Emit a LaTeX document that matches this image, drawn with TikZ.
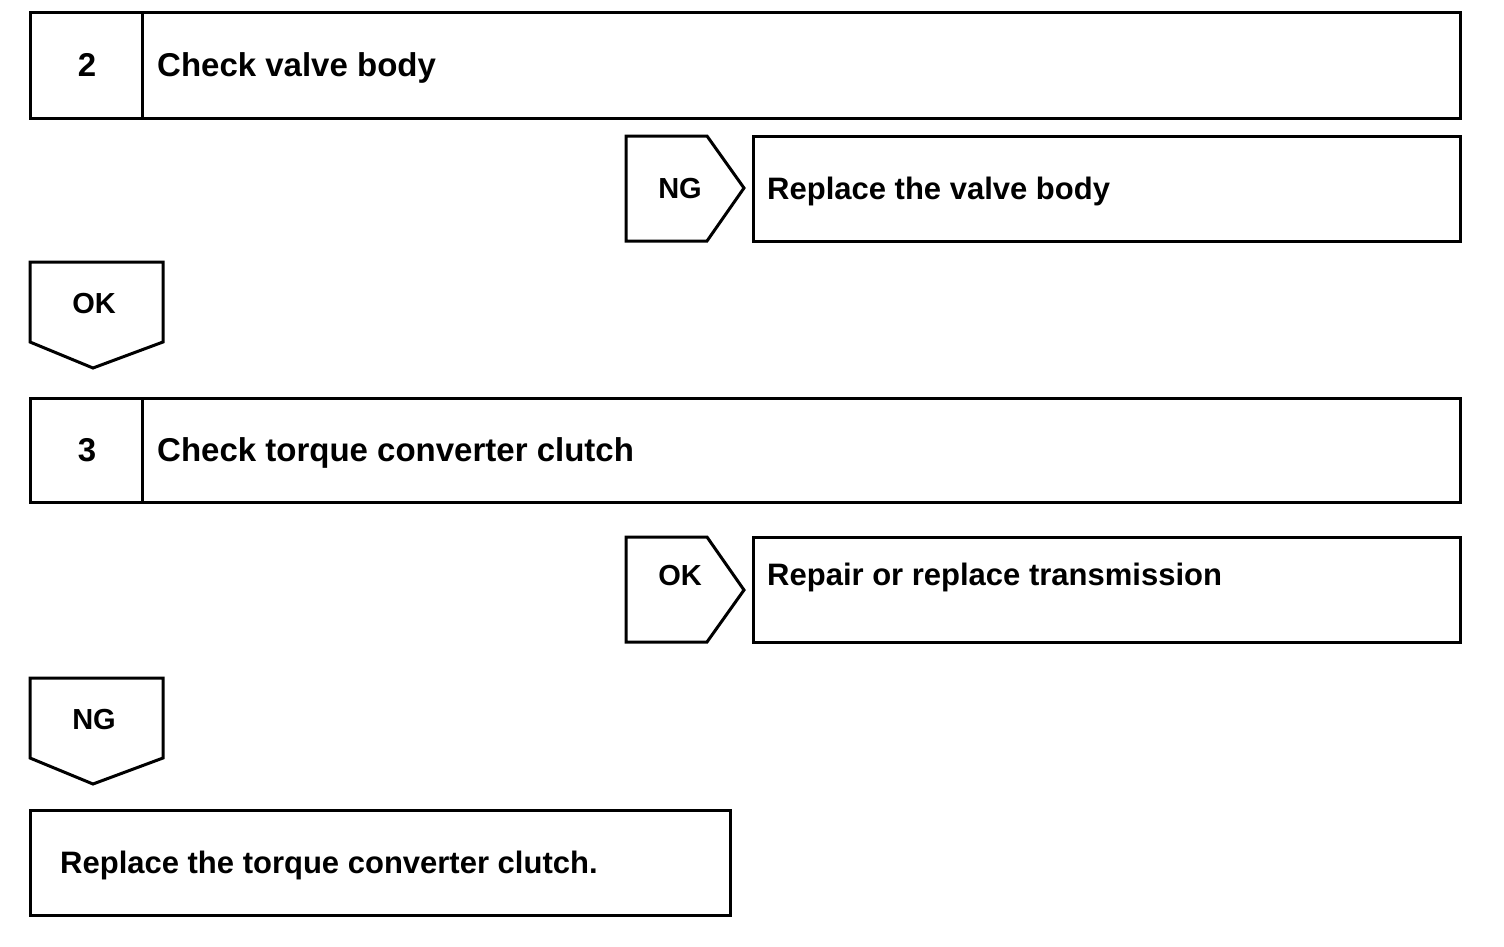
\documentclass[tikz,border=0pt]{standalone}
\usepackage{fontspec}
\setmainfont{Liberation Sans}
\tikzset{
  frame/.style={draw, line width=3pt, line join=miter},
  hdr/.style={font=\fontsize{33}{40}\selectfont\bfseries, inner sep=0pt},
  sub/.style={font=\fontsize{31}{37}\selectfont\bfseries, inner sep=0pt, anchor=base west},
  tag/.style={font=\fontsize{29}{35}\selectfont\bfseries, inner sep=0pt, anchor=base},
}
\begin{document}
\begin{tikzpicture}[x=1pt,y=-1pt]
\useasboundingbox (0,0) rectangle (1504,946);
% Step 2
\draw[frame] (30,12) rectangle (1460,118);
\draw[frame] (142,12) -- (142,118);
\node[hdr, anchor=base] (n2) at (87,76) {2};
\node[hdr, anchor=base west] (t2) at (157,76) {Check valve body};
% NG -> replace valve body
\draw[frame] (626,136) -- (707,136) -- (744,188) -- (707,241) -- (626,241) -- cycle;
\node[tag] (ng1) at (680,198) {NG};
\draw[frame] (753,136) rectangle (1460,241);
\node[sub] (r1) at (767,199) {Replace the valve body};
% OK down
\draw[frame] (30,262) -- (163,262) -- (163,342) -- (93,368) -- (30,342) -- cycle;
\node[tag] (ok1) at (94,313) {OK};
% Step 3
\draw[frame] (30,398) rectangle (1460,502);
\draw[frame] (142,398) -- (142,502);
\node[hdr, anchor=base] (n3) at (87,461) {3};
\node[hdr, anchor=base west] (t3) at (157,461) {Check torque converter clutch};
% OK -> repair
\draw[frame] (626,537) -- (707,537) -- (744,590) -- (707,642) -- (626,642) -- cycle;
\node[tag] (ok2) at (680,585) {OK};
\draw[frame] (753,537) rectangle (1460,642);
\node[sub] (r2) at (767,585) {Repair or replace transmission};
% NG down
\draw[frame] (30,678) -- (163,678) -- (163,758) -- (93,784) -- (30,758) -- cycle;
\node[tag] (ng2) at (94,729) {NG};
% Final
\draw[frame] (30,810) rectangle (730,915);
\node[sub] (r3) at (60,873) {Replace the torque converter clutch.};
\end{tikzpicture}
\end{document}
